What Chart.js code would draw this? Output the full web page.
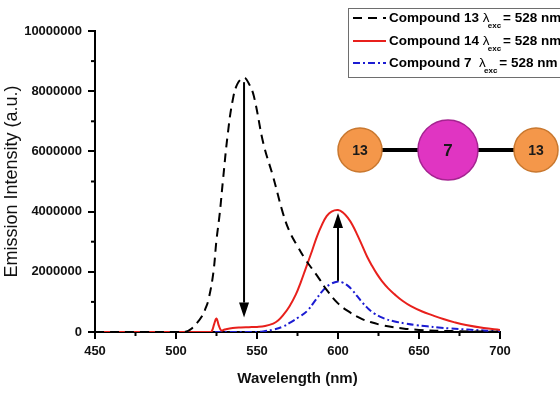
<!DOCTYPE html>
<html>
<head>
<meta charset="utf-8">
<script src="https://cdn.jsdelivr.net/npm/chart.js@4/dist/chart.umd.min.js"></script>
<style>
  html, body { margin: 0; padding: 0; background: #fff; }
  #wrap { width: 560px; height: 403px; }
</style>
</head>
<body>
<div id="wrap"><canvas id="chart"></canvas></div>
<script>
// Compound 13 (dashed black)
const wl13 = [450, 480, 500, 506, 510, 513, 516, 518, 520, 523, 525, 527, 529, 532, 535, 538, 542, 545, 548, 554, 560, 566, 570, 575, 580, 584, 588, 593, 600, 606, 614, 620, 628, 640, 650, 670, 700];
const em13 = [0, 0, 0, 10000, 130000, 300000, 520000, 750000, 1060000, 1950000, 3060000, 3940000, 5050000, 6600000, 7700000, 8250000, 8450000, 8250000, 7850000, 6250000, 5150000, 3950000, 3350000, 2850000, 2400000, 2100000, 1800000, 1400000, 950000, 700000, 450000, 330000, 220000, 120000, 70000, 30000, 10000];

// Compound 14 (solid red)
const wl14 = [450, 500, 520, 522, 523.5, 525, 526.5, 528, 530, 535, 540, 545, 550, 555, 560, 563, 566, 570, 574, 577, 580, 584, 587, 590, 593, 596, 600, 603, 606, 609, 612, 615, 618, 621, 624, 627, 631, 635, 640, 645, 652, 658, 665, 672, 679, 690, 700];
const em14 = [0, 0, 0, 20000, 250000, 450000, 200000, 50000, 80000, 130000, 150000, 160000, 170000, 200000, 280000, 380000, 550000, 850000, 1250000, 1650000, 2100000, 2700000, 3170000, 3550000, 3850000, 4000000, 4050000, 3970000, 3800000, 3550000, 3220000, 2860000, 2500000, 2200000, 1930000, 1700000, 1450000, 1250000, 1030000, 860000, 680000, 560000, 430000, 320000, 230000, 130000, 70000];

// Compound 7 (dash-dot blue)
const wl7 = [450, 550, 555, 560, 566, 571, 576, 581, 586, 591, 595, 600, 603, 606, 609, 612, 615, 618, 622, 628, 635, 642, 648, 655, 662, 669, 680, 690, 700];
const em7 = [0, 0, 30000, 80000, 180000, 330000, 500000, 700000, 1050000, 1400000, 1580000, 1680000, 1640000, 1540000, 1380000, 1180000, 980000, 810000, 630000, 460000, 350000, 280000, 230000, 190000, 150000, 120000, 80000, 50000, 20000];

// legend text pieces
const compoundNames = ["Compound 13", "Compound 14", "Compound 7 "];
const excText = "= 528 nm";

// arrows: wavelength, start intensity, end intensity
const arrowWl = [542, 600];
const arrowFrom = [8300000, 1700000];
const arrowTo = [480000, 3950000];

// molecule sketch labels
const nodeLabels = ["13", "7", "13"];

const FONT = "'Liberation Sans', Arial, sans-serif";

const toPoints = (xs, ys) => xs.map((x, i) => ({ x: x, y: ys[i] }));

const extras = {
  id: "extras",
  afterDatasetsDraw(chart) {
    const ctx = chart.ctx;
    const xs = chart.scales.x, ys = chart.scales.y;
    ctx.save();
    // minor ticks
    ctx.strokeStyle = "#000";
    ctx.lineWidth = 2;
    for (let v = 1000000; v < 10000000; v += 2000000) {
      const py = ys.getPixelForValue(v);
      ctx.beginPath();
      ctx.moveTo(xs.left - 4, py);
      ctx.lineTo(xs.left, py);
      ctx.stroke();
    }
    for (let v = 475; v < 700; v += 50) {
      const px = xs.getPixelForValue(v);
      ctx.beginPath();
      ctx.moveTo(px, ys.bottom);
      ctx.lineTo(px, ys.bottom + 4);
      ctx.stroke();
    }
    // arrows
    arrowWl.forEach((w, i) => {
      const px = xs.getPixelForValue(w);
      const y0 = ys.getPixelForValue(arrowFrom[i]);
      const y1 = ys.getPixelForValue(arrowTo[i]);
      const dir = y1 > y0 ? 1 : -1;
      const head = 15;
      ctx.lineWidth = 2;
      ctx.beginPath();
      ctx.moveTo(px, y0);
      ctx.lineTo(px, y1 - dir * head);
      ctx.stroke();
      ctx.fillStyle = "#000";
      ctx.beginPath();
      ctx.moveTo(px, y1);
      ctx.lineTo(px - 5, y1 - dir * head);
      ctx.lineTo(px + 5, y1 - dir * head);
      ctx.closePath();
      ctx.fill();
    });
    ctx.restore();
  },
  afterDraw(chart) {
    const ctx = chart.ctx;
    const area = chart.chartArea;
    ctx.save();

    // molecule sketch
    const cy = area.top + 119;
    const cx = [area.right - 140, area.right - 52, area.right + 36];
    const rad = [22, 30, 22];
    ctx.strokeStyle = "#000";
    ctx.lineWidth = 4;
    ctx.beginPath();
    ctx.moveTo(cx[0], cy);
    ctx.lineTo(cx[2], cy);
    ctx.stroke();
    nodeLabels.forEach((lab, i) => {
      const mid = i === 1;
      ctx.beginPath();
      ctx.arc(cx[i], cy, rad[i], 0, Math.PI * 2);
      ctx.fillStyle = mid ? "#e035c2" : "#f4974a";
      ctx.fill();
      ctx.lineWidth = 1.5;
      ctx.strokeStyle = mid ? "#a52491" : "#c9782f";
      ctx.stroke();
      ctx.fillStyle = "#1a1a1a";
      ctx.font = "bold " + (mid ? 17 : 14) + "px " + FONT;
      ctx.textAlign = "center";
      ctx.textBaseline = "middle";
      ctx.fillText(lab, cx[i], cy + 1);
    });

    // legend box
    ctx.strokeStyle = "#6e6e6e";
    ctx.lineWidth = 1;
    ctx.strokeRect(348.5, 8.5, 230, 69);
    const rowsY = [18, 41, 63];
    chart.data.datasets.forEach((ds, i) => {
      const y = rowsY[i];
      ctx.strokeStyle = ds.borderColor;
      ctx.lineWidth = 2;
      ctx.setLineDash(ds.borderDash || []);
      ctx.beginPath();
      ctx.moveTo(353, y);
      ctx.lineTo(386, y);
      ctx.stroke();
      ctx.setLineDash([]);
      ctx.fillStyle = "#000";
      ctx.textAlign = "left";
      ctx.textBaseline = "middle";
      ctx.font = "bold 13.5px " + FONT;
      let x = 389;
      const name = compoundNames[i] + " ";
      ctx.fillText(name, x, y);
      x += ctx.measureText(name).width;
      ctx.font = "13.5px " + FONT;
      ctx.fillText("\u03bb", x, y);
      const lx = x;
      ctx.font = "bold 8px " + FONT;
      ctx.fillText("exc", lx + 5, y + 8);
      x = lx + 5 + ctx.measureText("exc").width + 2;
      ctx.font = "bold 13.5px " + FONT;
      ctx.fillText(excText, x, y);
    });
    ctx.restore();
  }
};

new Chart(document.getElementById("chart"), {
  type: "line",
  data: {
    datasets: [
      {
        label: compoundNames[0],
        data: toPoints(wl13, em13),
        borderColor: "#000000",
        borderDash: [9, 6],
        borderWidth: 2
      },
      {
        label: compoundNames[1],
        data: toPoints(wl14, em14),
        borderColor: "#e8201c",
        borderWidth: 2
      },
      {
        label: compoundNames[2],
        data: toPoints(wl7, em7),
        borderColor: "#1c1cd2",
        borderDash: [7, 3, 2, 3],
        borderWidth: 2
      }
    ]
  },
  options: {
    responsive: true,
    maintainAspectRatio: false,
    animation: false,
    layout: { padding: { top: 31, right: 60, bottom: 11, left: 0 } },
    elements: {
      point: { radius: 0 },
      line: { tension: 0.4 }
    },
    plugins: {
      legend: { display: false },
      tooltip: { enabled: false }
    },
    scales: {
      x: {
        type: "linear",
        min: 450,
        max: 700,
        afterFit: (s) => { s.height = 60; },
        border: { color: "#000", width: 2 },
        grid: { drawOnChartArea: false, color: "#000", lineWidth: 2, tickLength: 7 },
        ticks: {
          stepSize: 50,
          padding: 5,
          color: "#111",
          font: { family: FONT, size: 13, weight: "bold" },
          maxRotation: 0
        },
        title: {
          display: true,
          text: "Wavelength (nm)",
          color: "#111",
          font: { family: FONT, size: 15, weight: "bold" }
        }
      },
      y: {
        min: 0,
        max: 10000000,
        afterFit: (s) => { s.width = 95; },
        border: { color: "#000", width: 2 },
        grid: { drawOnChartArea: false, color: "#000", lineWidth: 2, tickLength: 7 },
        ticks: {
          stepSize: 2000000,
          padding: 6,
          color: "#111",
          font: { family: FONT, size: 13, weight: "bold" },
          callback: (v) => String(v)
        },
        title: {
          display: true,
          text: "Emission Intensity (a.u.)",
          color: "#111",
          padding: { top: 1, bottom: 2 },
          font: { family: FONT, size: 18, weight: "normal" }
        }
      }
    }
  },
  plugins: [extras]
});
</script>
</body>
</html>
